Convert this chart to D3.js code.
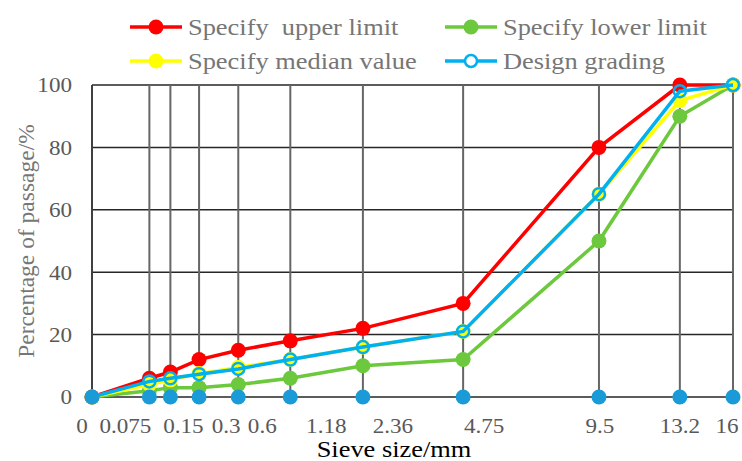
<!DOCTYPE html>
<html>
<head>
<meta charset="utf-8">
<script src="https://cdn.jsdelivr.net/npm/d3@7"></script>
<style>
  body { margin: 0; background: #fff; }
  svg text { font-family: "Liberation Serif", "Times New Roman", serif; }
</style>
</head>
<body>
<div id="chart"></div>
<script>
const width = 742, height = 461
const margin = { top: 85, right: 9, bottom: 64, left: 92 }

// sieve sizes (mm) and % passing
const sieves = [0, 0.075, 0.15, 0.3, 0.6, 1.18, 2.36, 4.75, 9.5, 13.2, 16]
const sieveLabels = ["0", "0.075", "0.15", "0.3", "0.6", "1.18", "2.36", "4.75", "9.5", "13.2", "16"]
const upperLimit = [0, 6, 8, 12, 15, 18, 22, 30, 80, 100, 100]
const lowerLimit = [0, 2, 3, 3, 4, 6, 10, 12, 50, 90, 100]
const medianValue = [0, 4, 5.5, 7.5, 9.5, 12, 16, 21, 65, 95, 100]
const designGrading = [0, 5, 6, 7.3, 9, 12, 16, 21, 65, 98, 100]
const yTicks = [0, 20, 40, 60, 80, 100]

const series = [
    { name: "Specify lower limit", values: lowerLimit, color: "#6cc83c", open: false },
    { name: "Specify  upper limit", values: upperLimit, color: "#ff0000", open: false },
    { name: "Specify median value", values: medianValue, color: "#ffff00", open: false },
    { name: "Design grading", values: designGrading, color: "#00b0f0", open: true }
]

// labels in the original are nudged off their sieve line
const labelDx = [-10, -24, 13, 27, 24, 36, 30, 21, 1, 0, -6]

// the source picture is a bit stretched sideways, so text is too
const stretch = 1.1
const place = (px, py) => `translate(${px},${py}) scale(${stretch},1)`

const svg = d3.select("#chart").append("svg")
    .attr("width", width)
    .attr("height", height)

// gradation charts use x^0.45
const x = d3.scalePow().exponent(0.45)
    .domain([0, 16])
    .range([margin.left, width - margin.right])

const y = d3.scaleLinear()
    .domain([0, 100])
    .range([height - margin.bottom, margin.top])

// horizontal grid
svg.append("g")
    .selectAll("line")
    .data(yTicks)
    .join("line")
    .attr("x1", x(0))
    .attr("x2", x(16))
    .attr("y1", d => y(d))
    .attr("y2", d => y(d))
    .attr("stroke", "#262626")
    .attr("stroke-width", 1.5)

// vertical sieve lines
svg.append("g")
    .selectAll("line")
    .data(sieves)
    .join("line")
    .attr("x1", d => x(d))
    .attr("x2", d => x(d))
    .attr("y1", y(0))
    .attr("y2", y(100))
    .attr("stroke", d => d === 0 ? "#404040" : "#666")
    .attr("stroke-width", 2)

// y tick labels
svg.append("g")
    .selectAll("text")
    .data(yTicks)
    .join("text")
    .attr("transform", d => place(x(0) - 20, y(d)))
    .attr("dy", "0.35em")
    .attr("text-anchor", "end")
    .attr("fill", "#595959")
    .attr("font-size", 21)
    .text(d => d)

// x tick labels
svg.append("g")
    .selectAll("text")
    .data(sieves)
    .join("text")
    .attr("transform", (d, i) => place(x(d) + labelDx[i], 433))
    .attr("text-anchor", "middle")
    .attr("fill", "#595959")
    .attr("font-size", 21)
    .text((d, i) => sieveLabels[i])

// axis titles
svg.append("text")
    .attr("transform", place(394, 457))
    .attr("text-anchor", "middle")
    .attr("fill", "#000")
    .attr("font-size", 24)
    .text("Sieve size/mm")

svg.append("text")
    .attr("transform", `translate(34,${(y(0) + y(100)) / 2}) rotate(-90)`)
    .attr("text-anchor", "middle")
    .attr("fill", "#767676")
    .attr("font-size", 23.5)
    .text("Percentage of passage/%")

const line = d3.line()
    .x((d, i) => x(sieves[i]))
    .y(d => y(d))

series.forEach(s => {
    const g = svg.append("g")
    g.append("path")
        .datum(s.values)
        .attr("d", line)
        .attr("fill", "none")
        .attr("stroke", s.color)
        .attr("stroke-width", 3.5)
    g.selectAll("circle")
        .data(s.values)
        .join("circle")
        .attr("cx", (d, i) => x(sieves[i]))
        .attr("cy", d => y(d))
        .attr("r", s.open ? 6 : 7.5)
        .attr("fill", s.open ? "none" : s.color)
        .attr("stroke", s.open ? s.color : "none")
        .attr("stroke-width", 2.5)
})

// sieve markers along zero
svg.append("g")
    .selectAll("circle")
    .data(sieves)
    .join("circle")
    .attr("cx", d => x(d))
    .attr("cy", y(0))
    .attr("r", 7.5)
    .attr("fill", "#1a9bd7")

// legend
const legendItems = [
    { s: series[1], col: 0, row: 0 },
    { s: series[0], col: 1, row: 0 },
    { s: series[2], col: 0, row: 1 },
    { s: series[3], col: 1, row: 1 }
]
const legend = svg.append("g")
legendItems.forEach(d => {
    const lx = d.col === 0 ? 130 : 445
    const ly = d.row === 0 ? 27 : 61
    legend.append("line")
        .attr("x1", lx).attr("x2", lx + 52)
        .attr("y1", ly).attr("y2", ly)
        .attr("stroke", d.s.color)
        .attr("stroke-width", 3.5)
    legend.append("circle")
        .attr("cx", lx + 26)
        .attr("cy", ly)
        .attr("r", d.s.open ? 6 : 7.5)
        .attr("fill", d.s.open ? "#fff" : d.s.color)
        .attr("stroke", d.s.open ? d.s.color : "none")
        .attr("stroke-width", 2.5)
    legend.append("text")
        .attr("transform", place(lx + 58, ly))
        .attr("dy", "0.33em")
        .attr("fill", "#767676")
        .attr("font-size", 24)
        .style("white-space", "pre")
        .text(d.s.name)
})
</script>
</body>
</html>
